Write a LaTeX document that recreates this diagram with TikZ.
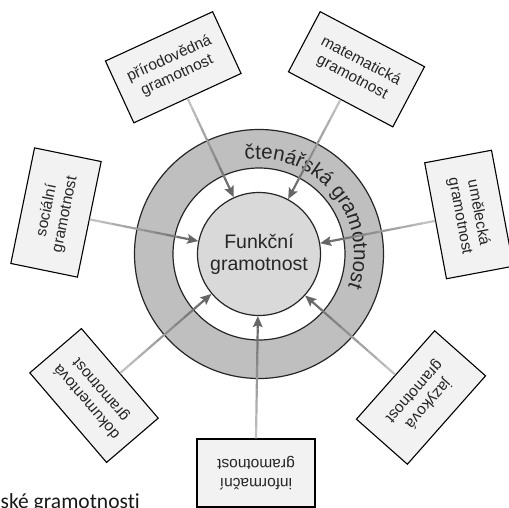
\documentclass[tikz,border=0pt]{standalone}
\usepackage{fontspec}
\setmainfont{Liberation Sans}
\newfontfamily\captionfont[Ligatures=NoCommon]{Carlito}
\usetikzlibrary{calc,arrows.meta,decorations.text}

\newcommand\ringfont{\fontsize{20.5}{24}\selectfont\color{black!85}}

% connector from a box to the centre circle, lightening towards the box
\newcommand\gradconn[2]{%
  \foreach \i [evaluate=\i as \ta using \i/10,
               evaluate=\i as \tb using (\i+1)/10,
               evaluate=\i as \c using int(24+4*\i)] in {0,...,8} {
    \draw[connline, draw=black!\c]
      ($(#1.south)!\ta!(fg.#2)$) -- ($(#1.south)!\tb!(fg.#2)$);
  }
  \draw[connline, draw=black!60, fill=black!62, -{Stealth[length=11pt,width=9.5pt,inset=2pt]}]
    ($(#1.south)!0.9!(fg.#2)$) -- (fg.#2);
}

\begin{document}
\begin{tikzpicture}[x=1pt,y=1pt,
  box/.style={draw=black, line width=1.1pt, fill=black!5,
    minimum width=118pt, minimum height=68pt, align=center,
    font=\fontsize{15.5}{18.5}\selectfont, text=black!85, inner sep=0pt},
  connline/.style={line width=2.2pt},
  ring/.style={draw=black!85, line width=1.2pt},
]
\useasboundingbox (-259,-253) rectangle (250,254);
\clip (-259,-253) rectangle (250,254);

% reading literacy ring
\draw[ring, fill=black!25] (0,0) circle[radius=124.5];
\draw[ring, fill=white] (0,0) circle[radius=86];
\path[decorate, decoration={text along path, text align=center,
    text={|\ringfont|čtenářská gramotnost}}]
  (114:95) arc[start angle=114, end angle=-36, radius=95];

% functional literacy core
\node[ring, circle, fill=black!15, minimum size=123pt, inner sep=0pt,
  align=center, font=\fontsize{19.5}{22}\selectfont, text=black!85] (fg) at (0,0)
  {Funkční\\gramotnost};

% surrounding literacies
\node[box, rotate=24.7]   (prir) at (-85.75,186.75) {přírodovědná\\gramotnost};
\node[box, rotate=-27.8]  (mat)  at (97.5,184.75)   {matematická\\gramotnost};
\node[box, rotate=-79.35] (umel) at (210,39.5)      {umělecká\\gramotnost};
\node[box, rotate=78.4]   (soc)  at (-203,41.5)     {sociální\\gramotnost};
\node[box, rotate=130.6]  (dok)  at (-165,-141.5)   {dokumentová\\gramotnost};
\node[box, rotate=180]    (inf)  at (-3,-219)       {informační\\gramotnost};
\node[box, rotate=228.5]  (jaz)  at (162,-143.5)    {jazyková\\gramotnost};

% connectors
\gradconn{prir}{114.7}
\gradconn{mat}{62.2}
\gradconn{umel}{10.65}
\gradconn{soc}{168.4}
\gradconn{dok}{220.6}
\gradconn{inf}{269.2}
\gradconn{jaz}{318.5}

% caption fragment
\node[anchor=base west, inner sep=0pt, font=\captionfont\fontsize{21.5}{24}\selectfont,
  text=black!90] (cap) at (-258.5,-254) {ské gramotnosti};
\end{tikzpicture}
\end{document}
